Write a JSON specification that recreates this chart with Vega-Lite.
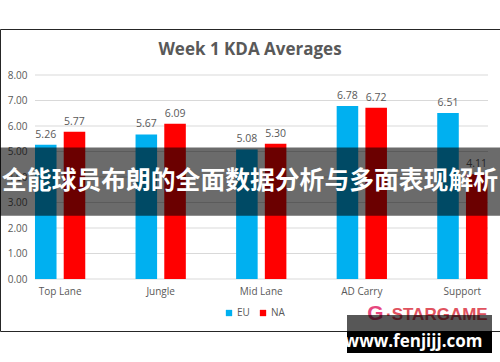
{
  "$schema": "https://vega.github.io/schema/vega-lite/v6.json",
  "width": 500,
  "height": 302,
  "autosize": {"type": "none"},
  "padding": {"left": 0, "top": 29, "right": 0, "bottom": 31},
  "background": "white",
  "config": {
    "view": {"stroke": "#262626", "strokeWidth": 1},
    "font": "Open Sans"
  },
  "title": {
    "text": "Week 1 KDA Averages",
    "font": "Open Sans",
    "fontSize": 17,
    "fontWeight": "bold",
    "color": "#595959",
    "anchor": "middle",
    "offset": -30
  },
  "datasets": {
    "kda": [
      {"lane": "Top Lane", "region": "EU", "kda": 5.26},
      {"lane": "Top Lane", "region": "NA", "kda": 5.77},
      {"lane": "Jungle", "region": "EU", "kda": 5.67},
      {"lane": "Jungle", "region": "NA", "kda": 6.09},
      {"lane": "Mid Lane", "region": "EU", "kda": 5.08},
      {"lane": "Mid Lane", "region": "NA", "kda": 5.30},
      {"lane": "AD Carry", "region": "EU", "kda": 6.78},
      {"lane": "AD Carry", "region": "NA", "kda": 6.72},
      {"lane": "Support", "region": "EU", "kda": 6.51},
      {"lane": "Support", "region": "NA", "kda": 4.11}
    ],
    "grid": [{"v": 0}, {"v": 1}, {"v": 2}, {"v": 3}, {"v": 4}, {"v": 5}, {"v": 6}, {"v": 7}, {"v": 8}],
    "one": [{"k": 1}]
  },
  "resolve": {"scale": {"x": "independent", "y": "independent"}},
  "layer": [
    {
      "resolve": {"scale": {"x": "independent"}},
      "layer": [
        {
          "data": {"name": "grid"},
          "mark": {"type": "rule", "color": "#d9d9d9", "strokeWidth": 1},
          "encoding": {
            "x": {"datum": 7, "type": "quantitative", "scale": {"domain": [0, 100], "nice": false, "zero": false}, "axis": null},
            "x2": {"datum": 97.6},
            "y": {
              "field": "v", "type": "quantitative",
              "scale": {"domain": [-2.039, 9.804], "nice": false, "zero": false},
              "axis": {"values": [0, 1, 2, 3, 4, 5, 6, 7, 8], "format": ".2f", "offset": -35, "grid": false, "domain": false, "ticks": false, "tickSize": 0, "labelPadding": 8, "labelColor": "#595959", "labelFontSize": 10, "labelFont": "Open Sans", "title": null}
            }
          }
        },
        {
          "data": {"name": "kda"},
          "layer": [
            {
              "mark": {"type": "bar"},
              "encoding": {
                "x": {
                  "field": "lane", "type": "nominal",
                  "sort": ["Top Lane", "Jungle", "Mid Lane", "AD Carry", "Support"],
                  "scale": {"paddingInner": 0.5, "paddingOuter": 0.236, "align": 0.737},
                  "axis": {"orient": "bottom", "offset": -52, "domain": false, "ticks": false, "tickSize": 0, "labelPadding": 7, "labelAngle": 0, "labelColor": "#595959", "labelFontSize": 10, "labelFont": "Open Sans", "title": null}
                },
                "xOffset": {"field": "region", "type": "nominal", "sort": ["EU", "NA"], "scale": {"paddingInner": 0.25, "paddingOuter": 0}},
                "y": {
                  "field": "kda", "type": "quantitative",
                  "scale": {"domain": [-2.039, 9.804], "nice": false, "zero": false},
                  "axis": {"values": [0, 1, 2, 3, 4, 5, 6, 7, 8], "format": ".2f", "offset": -35, "grid": false, "domain": false, "ticks": false, "tickSize": 0, "labelPadding": 8, "labelColor": "#595959", "labelFontSize": 10, "labelFont": "Open Sans", "title": null}
                },
                "color": {
                  "field": "region", "type": "nominal",
                  "scale": {"domain": ["EU", "NA"], "range": ["#00b0f0", "#ff0000"]},
                  "legend": {"orient": "none", "legendX": 224, "legendY": 279, "direction": "horizontal", "title": null, "symbolType": "square", "symbolSize": 40, "symbolStrokeWidth": 0, "labelFontSize": 10, "labelColor": "#595959", "labelFont": "Open Sans", "labelOffset": 3, "columnPadding": 8}
                }
              }
            },
            {
              "mark": {"type": "text", "baseline": "alphabetic", "dy": -7, "fontSize": 10.5, "color": "#595959", "font": "Open Sans"},
              "encoding": {
                "x": {"field": "lane", "type": "nominal", "sort": ["Top Lane", "Jungle", "Mid Lane", "AD Carry", "Support"]},
                "xOffset": {"field": "region", "type": "nominal", "sort": ["EU", "NA"]},
                "y": {
                  "field": "kda", "type": "quantitative",
                  "axis": {"values": [0, 1, 2, 3, 4, 5, 6, 7, 8], "format": ".2f", "offset": -35, "grid": false, "domain": false, "ticks": false, "tickSize": 0, "labelPadding": 8, "labelColor": "#595959", "labelFontSize": 10, "labelFont": "Open Sans", "title": null}
                },
                "text": {"field": "kda", "type": "quantitative", "format": ".2f"}
              }
            }
          ]
        }
      ]
    },
    {
      "data": {"name": "one"},
      "layer": [
        {
          "mark": {"type": "rect", "color": "black", "opacity": 0.58},
          "encoding": {
            "y": {"datum": 39.2, "type": "quantitative", "scale": {"domain": [0, 100], "reverse": true, "nice": false, "zero": false}, "axis": null},
            "y2": {"datum": 61.8}
          }
        },
        {
          "mark": {"type": "text", "color": "white", "font": "Noto Sans CJK SC", "fontWeight": "bold", "fontSize": 24.8, "align": "center", "baseline": "middle"},
          "encoding": {
            "x": {"datum": 50, "type": "quantitative", "scale": {"domain": [0, 100], "nice": false, "zero": false}, "axis": null},
            "y": {"datum": 50.7, "type": "quantitative"},
            "text": {"value": "全能球员布朗的全面数据分析与多面表现解析"}
          }
        },
        {
          "mark": {"type": "text", "color": "#e6457e", "font": "Liberation Sans", "fontWeight": "bold", "fontSize": 21, "align": "center", "baseline": "middle"},
          "encoding": {
            "x": {"datum": 75.1, "type": "quantitative"},
            "y": {"datum": 94.4, "type": "quantitative"},
            "text": {"value": "G"}
          }
        },
        {
          "mark": {"type": "text", "color": "#e0525e", "font": "Liberation Sans", "fontWeight": "bold", "fontSize": 17, "align": "left", "baseline": "middle"},
          "encoding": {
            "x": {"datum": 77.2, "type": "quantitative"},
            "y": {"datum": 94.6, "type": "quantitative"},
            "text": {"value": "·STARGAME"}
          }
        },
        {
          "mark": {"type": "rect", "color": "black", "opacity": 0.66},
          "encoding": {
            "x": {"datum": 69.4, "type": "quantitative"},
            "x2": {"datum": 98.4},
            "y": {"datum": 94.7, "type": "quantitative"},
            "y2": {"datum": 100}
          }
        },
        {
          "mark": {"type": "rect", "color": "black", "opacity": 1},
          "encoding": {
            "x": {"datum": 69.4, "type": "quantitative"},
            "x2": {"datum": 98.4},
            "y": {"datum": 100, "type": "quantitative"},
            "y2": {"datum": 107.3}
          }
        },
        {
          "mark": {"type": "text", "color": "white", "font": "Open Sans", "fontWeight": "bold", "fontSize": 17, "align": "center", "baseline": "middle"},
          "encoding": {
            "x": {"datum": 82.7, "type": "quantitative"},
            "y": {"datum": 103.6, "type": "quantitative"},
            "text": {"value": "www.fenjijj.com"}
          }
        }
      ]
    }
  ]
}
